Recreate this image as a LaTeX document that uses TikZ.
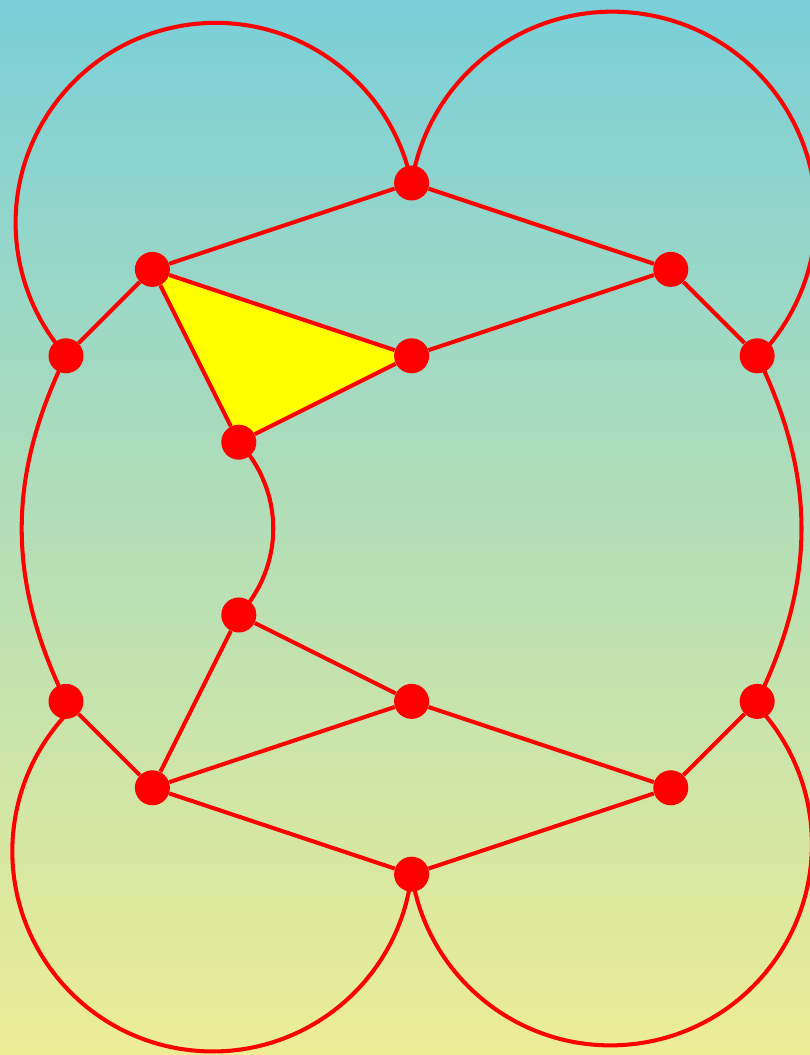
\documentclass[tikz,border=0pt]{standalone}
\usetikzlibrary{backgrounds}
\definecolor{skyTop}{HTML}{7ACFD9}
\definecolor{sandBottom}{HTML}{EDED95}
\definecolor{edgeRed}{HTML}{FF0000}
\definecolor{faceFill}{HTML}{FFFF00}

\begin{document}
\begin{tikzpicture}[
    % Global Styles
    x=1.728cm, y=1.728cm,
    % Node Styles
    vertex/.style={
        circle,
        fill=edgeRed,
        inner sep=0pt,
        minimum size=0.7cm
    },
    % Edge Style
    edge/.style={
        draw=edgeRed,
        line width=2.3pt
    },
    face/.style={
        fill=faceFill
    }
]

    % Frame of the picture
    \useasboundingbox (-0.764,2.118) rectangle (8.611,-10.093);

    % --- Nodes ---

    % 1. Upper part
    \node[vertex] (top) at (4,0) {};
    \node[vertex] (upL) at (1,-1) {};
    \node[vertex] (upR) at (7,-1) {};
    \node[vertex] (outL1) at (0,-2) {};
    \node[vertex] (mid1) at (4,-2) {};
    \node[vertex] (outR1) at (8,-2) {};

    % 2. Inner pair
    \node[vertex] (triTip) at (2,-3) {};
    \node[vertex] (cusp) at (2,-5) {};

    % 3. Lower part
    \node[vertex] (outL2) at (0,-6) {};
    \node[vertex] (mid2) at (4,-6) {};
    \node[vertex] (outR2) at (8,-6) {};
    \node[vertex] (lowL) at (1,-7) {};
    \node[vertex] (lowR) at (7,-7) {};
    \node[vertex] (bottom) at (4,-8) {};

    % --- Background and face ---
    \begin{scope}[on background layer]
        \shade[top color=skyTop, bottom color=sandBottom]
            (-0.764,2.118) rectangle (8.611,-10.093);
        \fill[face] (upL.center) -- (mid1.center) -- (triTip.center) -- cycle;
    \end{scope}

    % --- Edges ---

    % Upper rhombus
    \draw[edge] (top) -- (upL);
    \draw[edge] (top) -- (upR);
    \draw[edge] (upL) -- (mid1);
    \draw[edge] (mid1) -- (upR);
    \draw[edge] (upL) -- (outL1);
    \draw[edge] (upR) -- (outR1);

    % Yellow triangle
    \draw[edge] (upL) -- (triTip);
    \draw[edge] (triTip) -- (mid1);

    % Lower part
    \draw[edge] (cusp) -- (mid2);
    \draw[edge] (cusp) -- (lowL);
    \draw[edge] (lowL) -- (mid2);
    \draw[edge] (mid2) -- (lowR);
    \draw[edge] (lowL) -- (bottom);
    \draw[edge] (bottom) -- (lowR);
    \draw[edge] (outL2) -- (lowL);
    \draw[edge] (outR2) -- (lowR);

    % Bent connections
    \draw[edge] (triTip.center) to[bend left=43] (cusp.center);
    \draw[edge] (outL1.center) to[bend right=26] (outL2.center);
    \draw[edge] (outR1.center) to[bend left=26] (outR2.center);

    % Big loops (round arcs, top -> outL1 / outR1, bottom -> outL2 / outR2)
    \draw[edge] (top.center) arc[start angle=11.5, end angle=221.5, radius=4cm];
    \draw[edge] (top.center) arc[start angle=170.9, end angle=-43.9, radius=4.07cm];
    \draw[edge] (bottom.center) arc[start angle=-6.6, end angle=-225.8, radius=4.006cm];
    \draw[edge] (bottom.center) arc[start angle=188.6, end angle=404.5, radius=4.026cm];

\end{tikzpicture}
\end{document}
